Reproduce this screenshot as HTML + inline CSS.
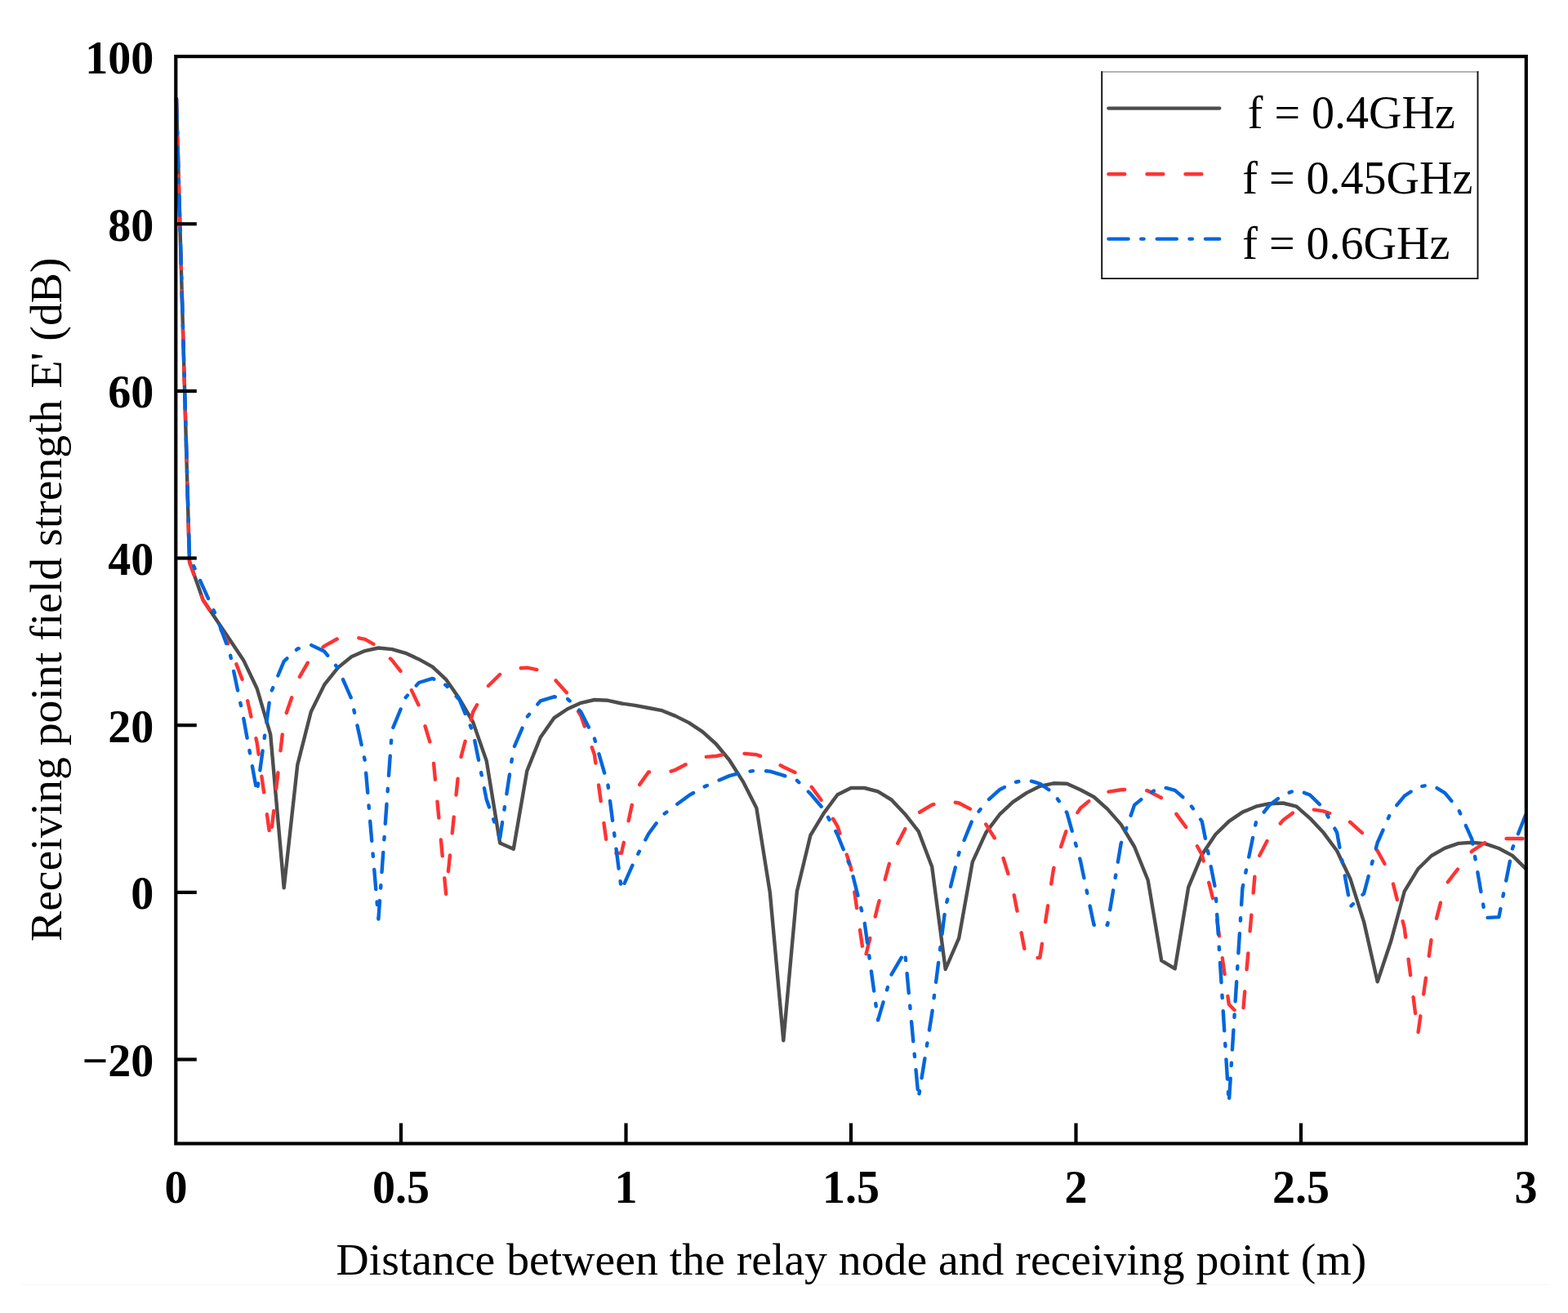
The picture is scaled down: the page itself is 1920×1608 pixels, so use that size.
<!DOCTYPE html>
<html><head><meta charset="utf-8"><title>Receiving point field strength vs distance</title>
<style>html,body{margin:0;padding:0;background:#fff;width:1920px;height:1608px;overflow:hidden}svg{display:block}</style>
</head><body>
<svg width="1920" height="1608" viewBox="0 0 1920 1608">
<rect width="1920" height="1608" fill="#ffffff"/>
<line x1="27" y1="1573.3" x2="1898" y2="1573.3" stroke="#f6f6f6" stroke-width="1"/>
<g fill="none" stroke-width="4.4" stroke-linejoin="round" stroke-linecap="round">
<path d="M216.0,121.0 L232.0,687.6 L248.6,734.7 L265.1,759.3 L281.6,783.8 L298.1,808.4 L314.7,843.2 L331.2,899.5 L347.7,1087.2 L364.3,936.6 L380.8,871.8 L397.3,838.4 L413.9,817.6 L430.4,804.3 L446.9,797.1 L463.4,793.5 L480.0,795.1 L496.5,799.8 L513.0,807.4 L529.6,816.6 L546.1,832.1 L562.6,855.8 L579.2,884.4 L595.7,931.7 L612.2,1032.5 L628.8,1039.8 L645.3,944.1 L661.8,903.0 L678.3,879.4 L694.9,868.2 L711.4,860.8 L727.9,857.0 L744.5,857.8 L761.0,861.5 L777.5,863.9 L794.1,867.0 L810.6,870.2 L827.1,876.9 L843.6,885.1 L860.2,896.1 L876.7,911.0 L893.2,931.0 L909.8,957.1 L926.3,989.4 L942.8,1092.8 L959.3,1274.4 L975.9,1091.4 L992.4,1023.0 L1008.9,995.6 L1025.5,973.2 L1042.0,965.0 L1058.5,965.0 L1075.1,969.4 L1091.6,979.5 L1108.1,996.9 L1124.7,1018.1 L1141.2,1061.5 L1157.7,1187.0 L1174.2,1148.9 L1190.8,1055.6 L1207.3,1019.6 L1223.8,997.7 L1240.4,982.2 L1256.9,971.1 L1273.4,962.8 L1290.0,959.3 L1306.5,959.8 L1323.0,967.3 L1339.5,976.0 L1356.1,990.9 L1372.6,1009.6 L1389.1,1037.0 L1405.7,1078.0 L1422.2,1176.3 L1438.7,1186.3 L1455.2,1086.7 L1471.8,1046.8 L1488.3,1022.0 L1504.8,1005.9 L1521.4,994.6 L1537.9,987.7 L1554.4,984.2 L1571.0,983.5 L1587.5,987.7 L1604.0,1002.1 L1620.5,1019.6 L1637.1,1042.0 L1653.6,1076.8 L1670.1,1129.1 L1686.7,1202.3 L1703.2,1152.7 L1719.7,1091.7 L1736.3,1064.3 L1752.8,1048.0 L1769.3,1038.6 L1785.9,1032.9 L1802.4,1031.8 L1818.9,1033.4 L1835.4,1039.0 L1852.0,1047.9 L1868.5,1064.1" stroke="#4d4d4d"/>
<path d="M216.0,121.0 L232.0,688.7 L248.6,734.7 L265.1,760.3 L281.6,793.0 L298.1,836.0 L314.7,909.7 L331.2,1028.4 L347.7,882.1 L364.3,833.4 L380.8,804.8 L397.3,791.1 L413.9,781.9 L430.4,779.4 L446.9,782.9 L463.4,792.3 L480.0,808.5 L496.5,829.7 L513.0,864.5 L529.6,919.2 L546.1,1094.7 L562.6,934.1 L579.2,871.9 L595.7,842.2 L612.2,825.9 L628.8,818.9 L645.3,817.7 L661.8,821.0 L678.3,830.9 L694.9,849.5 L711.4,876.9 L727.9,924.2 L744.5,1044.8 L761.0,1044.8 L777.5,969.0 L794.1,945.4 L810.6,947.9 L827.1,942.8 L843.6,934.2 L860.2,927.2 L876.7,926.0 L893.2,922.7 L909.8,922.7 L926.3,924.2 L942.8,930.2 L959.3,939.2 L975.9,947.1 L992.4,962.0 L1008.9,984.4 L1025.5,1011.8 L1042.0,1062.8 L1058.5,1176.8 L1075.1,1108.8 L1091.6,1047.8 L1108.1,1015.5 L1124.7,995.6 L1141.2,985.7 L1157.7,980.7 L1174.2,983.5 L1190.8,992.2 L1207.3,1009.6 L1223.8,1035.8 L1240.4,1089.2 L1256.9,1175.0 L1273.4,1172.6 L1290.0,1064.3 L1306.5,1014.6 L1323.0,989.7 L1339.5,976.0 L1356.1,969.8 L1372.6,967.3 L1389.1,966.1 L1405.7,968.5 L1422.2,977.2 L1438.7,994.6 L1455.2,1017.0 L1471.8,1046.8 L1488.3,1113.3 L1504.8,1230.0 L1521.4,1247.1 L1537.9,1056.0 L1554.4,1024.5 L1571.0,1004.6 L1587.5,992.2 L1604.0,990.9 L1620.5,993.4 L1637.1,999.1 L1653.6,1007.1 L1670.1,1022.0 L1686.7,1042.0 L1703.2,1071.8 L1719.7,1136.5 L1736.3,1266.0 L1752.8,1149.1 L1769.3,1084.7 L1785.9,1063.2 L1802.4,1042.3 L1818.9,1031.5 L1835.4,1027.0 L1852.0,1027.0 L1868.5,1027.0" stroke="#ff3333" stroke-dasharray="19.9 27.15"/>
<path d="M216.0,121.0 L232.0,681.5 L248.6,718.9 L265.1,755.2 L281.6,800.2 L298.1,879.0 L314.7,970.1 L331.2,849.5 L347.7,809.9 L364.3,794.6 L380.8,789.9 L397.3,797.8 L413.9,818.4 L430.4,855.8 L446.9,931.7 L463.4,1125.6 L480.0,894.3 L496.5,854.4 L513.0,836.0 L529.6,830.9 L546.1,839.1 L562.6,857.0 L579.2,896.8 L595.7,979.0 L612.2,1026.2 L628.8,916.7 L645.3,878.2 L661.8,858.3 L678.3,853.3 L694.9,855.8 L711.4,871.9 L727.9,904.3 L744.5,961.6 L761.0,1089.8 L777.5,1052.9 L794.1,1021.2 L810.6,998.8 L827.1,986.4 L843.6,974.2 L860.2,964.5 L876.7,957.1 L893.2,950.1 L909.8,945.8 L926.3,943.5 L942.8,944.6 L959.3,949.6 L975.9,955.8 L992.4,972.1 L1008.9,991.5 L1025.5,1022.2 L1042.0,1063.2 L1058.5,1128.7 L1075.1,1249.4 L1091.6,1193.3 L1108.1,1165.5 L1124.7,1344.6 L1141.2,1241.2 L1157.7,1111.3 L1174.2,1044.8 L1190.8,1003.8 L1207.3,982.2 L1223.8,967.3 L1240.4,958.6 L1256.9,954.8 L1273.4,959.8 L1290.0,971.1 L1306.5,995.6 L1323.0,1054.4 L1339.5,1132.8 L1356.1,1132.8 L1372.6,1033.2 L1389.1,985.9 L1405.7,972.3 L1422.2,963.6 L1438.7,967.8 L1455.2,982.2 L1471.8,1005.9 L1488.3,1089.3 L1504.8,1350.7 L1521.4,1087.7 L1537.9,1007.1 L1554.4,985.9 L1571.0,973.5 L1587.5,967.3 L1604.0,973.5 L1620.5,989.7 L1637.1,1019.6 L1653.6,1110.3 L1670.1,1094.2 L1686.7,1032.0 L1703.2,994.6 L1719.7,974.8 L1736.3,963.6 L1752.8,961.1 L1769.3,971.1 L1785.9,991.3 L1802.4,1027.8 L1818.9,1124.0 L1835.4,1123.1 L1852.0,1039.0 L1868.5,997.0" stroke="#0066dd" stroke-dasharray="24.2 15.6 3.4 16.1"/>
</g>
<g stroke="#000" stroke-width="4.2" fill="none">
<line x1="215.5" y1="274.25" x2="240.8" y2="274.25"/>
<line x1="215.5" y1="478.90" x2="240.8" y2="478.90"/>
<line x1="215.5" y1="683.55" x2="240.8" y2="683.55"/>
<line x1="215.5" y1="888.20" x2="240.8" y2="888.20"/>
<line x1="215.5" y1="1092.85" x2="240.8" y2="1092.85"/>
<line x1="215.5" y1="1297.50" x2="240.8" y2="1297.50"/>
<line x1="491.00" y1="1400.5" x2="491.00" y2="1375.5"/>
<line x1="766.50" y1="1400.5" x2="766.50" y2="1375.5"/>
<line x1="1042.00" y1="1400.5" x2="1042.00" y2="1375.5"/>
<line x1="1317.50" y1="1400.5" x2="1317.50" y2="1375.5"/>
<line x1="1593.00" y1="1400.5" x2="1593.00" y2="1375.5"/>
</g>
<rect x="215.3" y="69.1" width="1653.5" height="1331.4" fill="none" stroke="#000" stroke-width="4.2"/>
<g font-family="Liberation Serif, Times New Roman, serif" font-weight="bold" font-size="56" fill="#000">
<text x="188.3" y="89.9" text-anchor="end">100</text>
<text x="188.3" y="294.6" text-anchor="end">80</text>
<text x="188.3" y="499.2" text-anchor="end">60</text>
<text x="188.3" y="703.8" text-anchor="end">40</text>
<text x="188.3" y="908.5" text-anchor="end">20</text>
<text x="188.3" y="1113.1" text-anchor="end">0</text>
<text x="188.3" y="1317.8" text-anchor="end">−20</text>
<text x="215.5" y="1473.3" text-anchor="middle">0</text>
<text x="491.0" y="1473.3" text-anchor="middle">0.5</text>
<text x="766.5" y="1473.3" text-anchor="middle">1</text>
<text x="1042.0" y="1473.3" text-anchor="middle">1.5</text>
<text x="1317.5" y="1473.3" text-anchor="middle">2</text>
<text x="1593.0" y="1473.3" text-anchor="middle">2.5</text>
<text x="1868.5" y="1473.3" text-anchor="middle">3</text>
</g>
<g font-family="Liberation Serif, Times New Roman, serif" font-size="55.7" fill="#000">
<text x="411.5" y="1561">Distance between the relay node and receiving point (m)</text>
<text transform="translate(74.6,1153.0) rotate(-90)" x="0" y="0">Receiving point field strength E' (dB)</text>
</g>
<rect x="1349.2" y="88.0" width="460.3" height="253.1" fill="#fff" stroke="none"/>
<line x1="1348.3" y1="88.0" x2="1810.4" y2="88.0" stroke="#9a9a9a" stroke-width="1.7"/>
<path d="M1349.2,87.2 V341.1 H1809.5 V87.2" fill="none" stroke="#111" stroke-width="1.9"/>
<g fill="none" stroke-width="4.4" stroke-linecap="round">
<line x1="1357.4" y1="132.6" x2="1493.2" y2="132.6" stroke="#4d4d4d"/>
<line x1="1357.4" y1="213.3" x2="1493.2" y2="213.3" stroke="#ff3333" stroke-dasharray="19.9 27.15"/>
<line x1="1357.4" y1="292.6" x2="1493.2" y2="292.6" stroke="#0066dd" stroke-dasharray="24.2 15.6 3.4 16.1"/>
</g>
<g font-family="Liberation Serif, Times New Roman, serif" font-size="56" fill="#000">
<text x="1527.8" y="157.2">f = 0.4GHz</text>
<text x="1521.3" y="237.4">f = 0.45GHz</text>
<text x="1521.3" y="316.9">f = 0.6GHz</text>
</g>
</svg>
</body></html>
